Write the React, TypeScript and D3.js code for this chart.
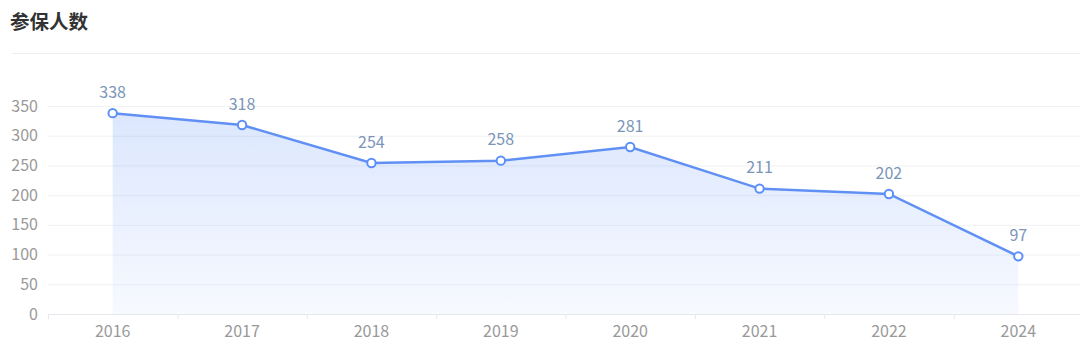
import React from "react";
import * as d3 from "d3";

const categories = ["2016", "2017", "2018", "2019", "2020", "2021", "2022", "2024"];
const values = [338, 318, 254, 258, 281, 211, 202, 97];
const yTicks = [0, 50, 100, 150, 200, 250, 300, 350];
const title = "参保人数";

export default function App() {
  const W = 1080, H = 358;
  const left = 48, right = 1083, top = 106, bottom = 314;
  const x = d3.scaleBand<string>().domain(categories).range([left, right]);
  const y = d3.scaleLinear().domain([0, 350]).range([bottom, top]);
  const cx = (c: string) => (x(c) as number) + x.bandwidth() / 2;
  const pts: [number, number][] = categories.map((c, i) => [cx(c), y(values[i])]);
  const line = d3.line()(pts) as string;
  const area = d3.area<[number, number]>().x(d => d[0]).y0(bottom).y1(d => d[1])(pts) as string;
  const font = "'Noto Sans CJK SC', 'Noto Sans', sans-serif";
  const boundaries = d3.range(categories.length + 1).map(i => left + i * x.bandwidth());
  return (
    <svg width={W} height={H} style={{ position: "absolute", left: 0, top: 0, display: "block" }}>
      <defs>
        <linearGradient id="areaGrad" gradientUnits="userSpaceOnUse" x1={0} y1={top} x2={0} y2={bottom}>
          <stop offset="0%" stopColor="#5b8ff9" stopOpacity={0.22} />
          <stop offset="100%" stopColor="#5b8ff9" stopOpacity={0.05} />
        </linearGradient>
      </defs>
      <rect width={W} height={H} fill="#fff" />
      <text x={10} y={22} dy="0.35em" fontFamily={font} fontSize={19.5} fontWeight={700} fill="#333">{title}</text>
      <line x1={12} x2={W} y1={53.5} y2={53.5} stroke="#eeeeee" />
      {yTicks.map(t => (
        <g key={t}>
          {t > 0 && <line x1={left} x2={right} y1={y(t) + 0.5} y2={y(t) + 0.5} stroke="#f0f1f4" />}
          <text x={38} y={y(t)} dy="0.35em" textAnchor="end" fontFamily={font} fontSize={16} fill="#999">{t}</text>
        </g>
      ))}
      <path d={area} fill="url(#areaGrad)" />
      <line x1={left} x2={right} y1={bottom + 0.5} y2={bottom + 0.5} stroke="#e6e8ee" />
      {boundaries.map((b, i) => (
        <line key={i} x1={b + 0.5} x2={b + 0.5} y1={bottom} y2={bottom + 5} stroke="#e6e8ee" />
      ))}
      {categories.map(c => (
        <text key={c} x={cx(c)} y={331} dy="0.35em" textAnchor="middle" fontFamily={font} fontSize={16} fill="#999">{c}</text>
      ))}
      <path d={line} fill="none" stroke="#6190f5" strokeWidth={2.5} />
      {pts.map((p, i) => (
        <g key={i}>
          <circle cx={p[0]} cy={p[1]} r={4.2} fill="#fff" stroke="#5b8ff9" strokeWidth={2} />
          <text x={p[0]} y={p[1] - 21} dy="0.35em" textAnchor="middle" fontFamily={font} fontSize={16} fill="#7b95b9">{values[i]}</text>
        </g>
      ))}
    </svg>
  );
}
